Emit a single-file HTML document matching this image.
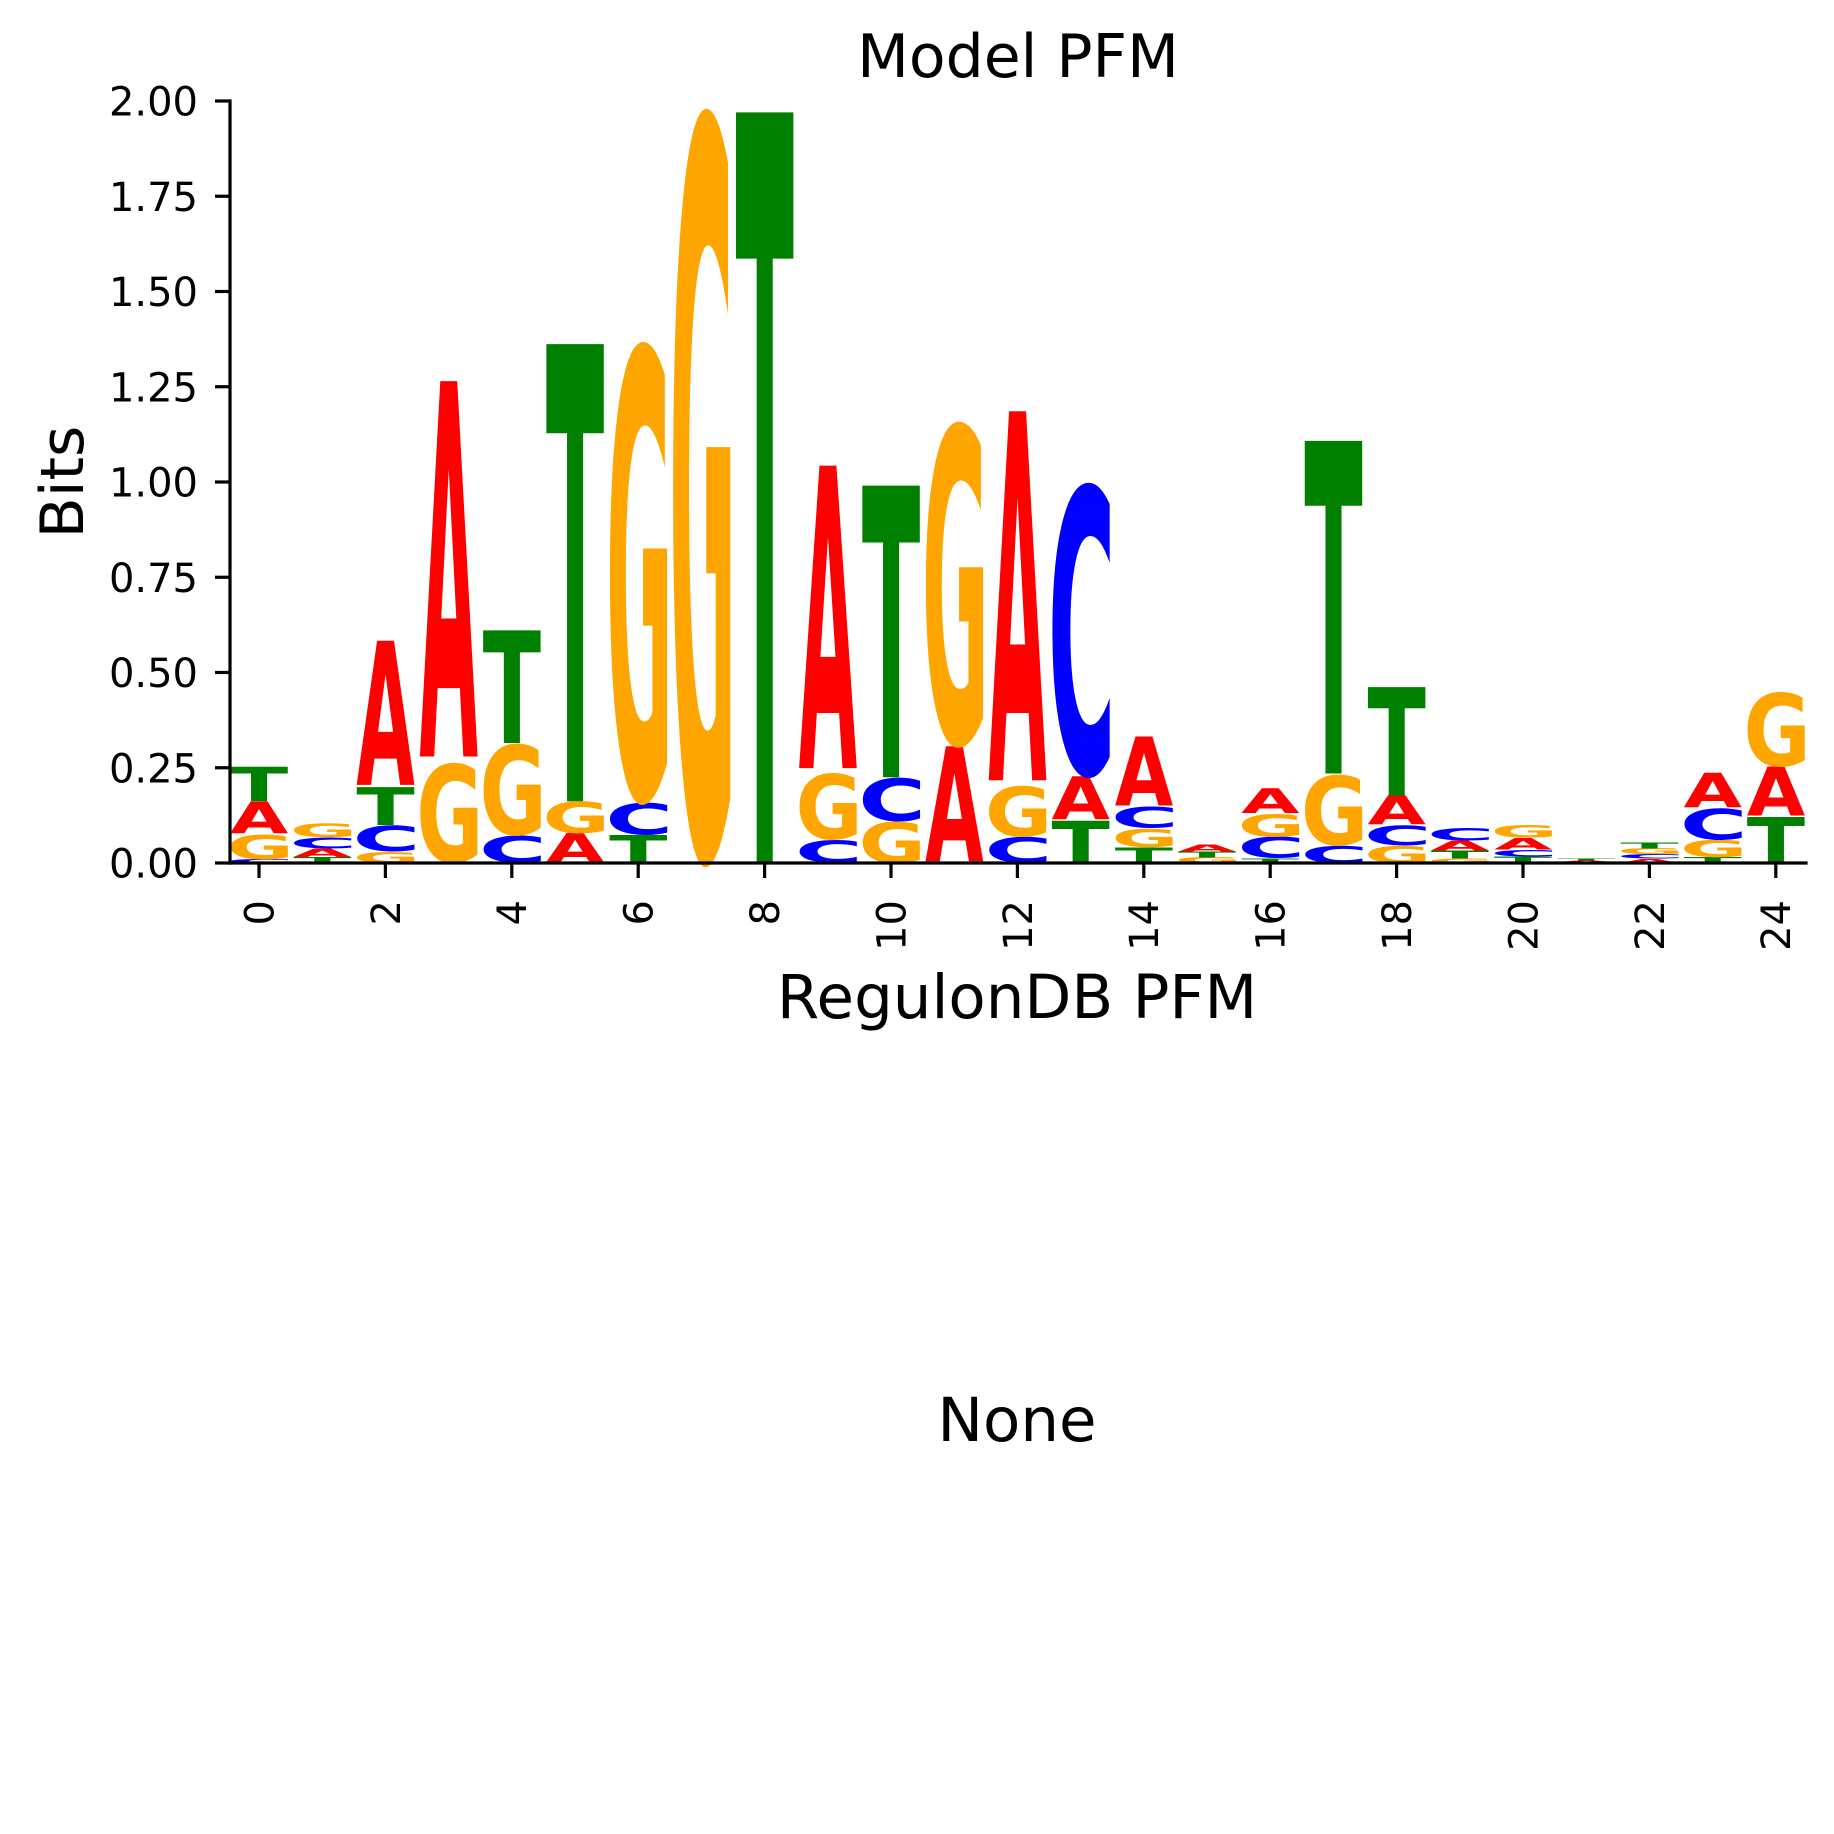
<!DOCTYPE html>
<html><head><meta charset="utf-8">
<style>
html,body{margin:0;padding:0;background:#fff;}
svg{display:block;}
text{font-family:"DejaVu Sans","Liberation Sans",sans-serif;}
</style></head>
<body>
<svg id="chart" width="1834" height="1834" viewBox="0 0 1834 1834" xmlns="http://www.w3.org/2000/svg">
  <rect x="0" y="0" width="1834" height="1834" fill="#fff"/>
  <text x="1018" y="77" font-size="60" text-anchor="middle" fill="#000">Model PFM</text>
  <g id="logo"></g>
  <g id="axes"></g>
  <text x="83" y="482" font-size="60" text-anchor="middle" transform="rotate(-90 83 482)" fill="#000">Bits</text>
  <text x="1017" y="1018" font-size="61" text-anchor="middle" fill="#000">RegulonDB PFM</text>
  <text x="1017" y="1441" font-size="61" text-anchor="middle" fill="#000">None</text>
</svg>
<script>
// Information content (bits) per position, per base
const positions = [0,1,2,3,4,5,6,7,8,9,10,11,12,13,14,15,16,17,18,19,20,21,22,23,24];
const bitsA = [0.085,0.023,0.384,1.000,0.000,0.077,0.000,0.000,0.000,0.806,0.000,0.307,0.983,0.115,0.184,0.018,0.066,0.000,0.077,0.026,0.031,0.004,0.011,0.092,0.130];
const bitsC = [0.010,0.030,0.070,0.000,0.072,0.000,0.085,0.000,0.000,0.061,0.115,0.000,0.069,0.779,0.057,0.000,0.057,0.046,0.054,0.034,0.018,0.003,0.012,0.084,0.000];
const bitsG = [0.066,0.038,0.030,0.266,0.243,0.085,1.221,2.000,0.000,0.177,0.110,0.860,0.135,0.000,0.050,0.015,0.061,0.189,0.046,0.012,0.034,0.000,0.015,0.046,0.197];
const bitsT = [0.092,0.015,0.100,0.000,0.300,1.218,0.074,0.000,2.000,0.000,0.777,0.000,0.000,0.112,0.041,0.015,0.012,0.886,0.289,0.020,0.017,0.005,0.015,0.015,0.123];
const yTicks = [0,0.25,0.5,0.75,1.0,1.25,1.5,1.75,2.0];
const yTickLabels = ["0.00","0.25","0.50","0.75","1.00","1.25","1.50","1.75","2.00"];
const xTicks = [0,2,4,6,8,10,12,14,16,18,20,22,24];

const NS = "http://www.w3.org/2000/svg";
const X0 = 259, XU = 63.2, Y0 = 863, YU = 381;
function xs(v){ return X0 + v*XU; }
function ys(v){ return Y0 - v*YU; }
const colors = {A:"#ff0000", C:"#0000ff", G:"#ffa500", T:"#008000"};
const series = {A:bitsA, C:bitsC, G:bitsG, T:bitsT};

const cv = document.createElement("canvas");
const ctx = cv.getContext("2d");
ctx.font = "bold 100px 'DejaVu Sans', sans-serif";
const metrics = {};
["A","C","G","T"].forEach(function(b){
  const m = ctx.measureText(b);
  metrics[b] = {L:m.actualBoundingBoxLeft, R:m.actualBoundingBoxRight, A:m.actualBoundingBoxAscent, D:m.actualBoundingBoxDescent};
});

const logo = document.getElementById("logo");
const letterW = 0.92;
positions.forEach(function(p, i){
  const stack = ["A","C","G","T"].map(function(b){ return {b:b, v:series[b][i]}; })
    .filter(function(o){ return o.v > 0; })
    .sort(function(a,b){ return a.v - b.v; });
  let base = 0;
  stack.forEach(function(o){
    const bx = xs(p - letterW/2), bw = letterW*XU;
    const by = ys(base + o.v), bh = o.v*YU;
    const m = metrics[o.b];
    const sx = bw/(m.L + m.R), sy = bh/(m.A + m.D);
    const t = document.createElementNS(NS, "text");
    
    
    t.setAttribute("x", 0); t.setAttribute("y", 0);
    t.setAttribute("font-size", 100);
    t.setAttribute("font-weight", "bold");
    t.setAttribute("fill", colors[o.b]);
    t.setAttribute("transform", "translate(" + (bx + m.L*sx) + "," + (by + m.A*sy) + ") scale(" + sx + "," + sy + ")");
    t.textContent = o.b;
    logo.appendChild(t);
    base += o.v;
  });
});

const axes = document.getElementById("axes");
function line(x1,y1,x2,y2,name){
  const l = document.createElementNS(NS, "line");
  
  
  l.setAttribute("x1",x1); l.setAttribute("y1",y1); l.setAttribute("x2",x2); l.setAttribute("y2",y2);
  l.setAttribute("stroke","#000"); l.setAttribute("stroke-width",3.2); l.setAttribute("stroke-linecap","square");
  axes.appendChild(l);
}
line(230, ys(2), 230, Y0, "y-axis-spine");
line(230, Y0, 1806, Y0, "x-axis-spine");
yTicks.forEach(function(v, i){
  const y = ys(v);
  const l = document.createElementNS(NS, "line");
  
  
  l.setAttribute("x1",215); l.setAttribute("x2",230); l.setAttribute("y1",y); l.setAttribute("y2",y);
  l.setAttribute("stroke","#000"); l.setAttribute("stroke-width",3.2);
  axes.appendChild(l);
  const t = document.createElementNS(NS, "text");
  
  
  t.setAttribute("x",198); t.setAttribute("y",y + 14.5);
  t.setAttribute("font-size",40); t.setAttribute("text-anchor","end"); t.setAttribute("fill","#000");
  t.textContent = yTickLabels[i];
  axes.appendChild(t);
});
xTicks.forEach(function(v){
  const x = xs(v);
  const l = document.createElementNS(NS, "line");
  
  
  l.setAttribute("x1",x); l.setAttribute("x2",x); l.setAttribute("y1",Y0); l.setAttribute("y2",878);
  l.setAttribute("stroke","#000"); l.setAttribute("stroke-width",3.2);
  axes.appendChild(l);
  const t = document.createElementNS(NS, "text");
  
  
  t.setAttribute("x",x); t.setAttribute("y",900);
  t.setAttribute("dy","0.36em");
  t.setAttribute("font-size",40); t.setAttribute("text-anchor","end"); t.setAttribute("fill","#000");
  t.setAttribute("transform","rotate(-90 " + x + " 900)");
  t.textContent = String(v);
  axes.appendChild(t);
});
</script>
</body></html>
